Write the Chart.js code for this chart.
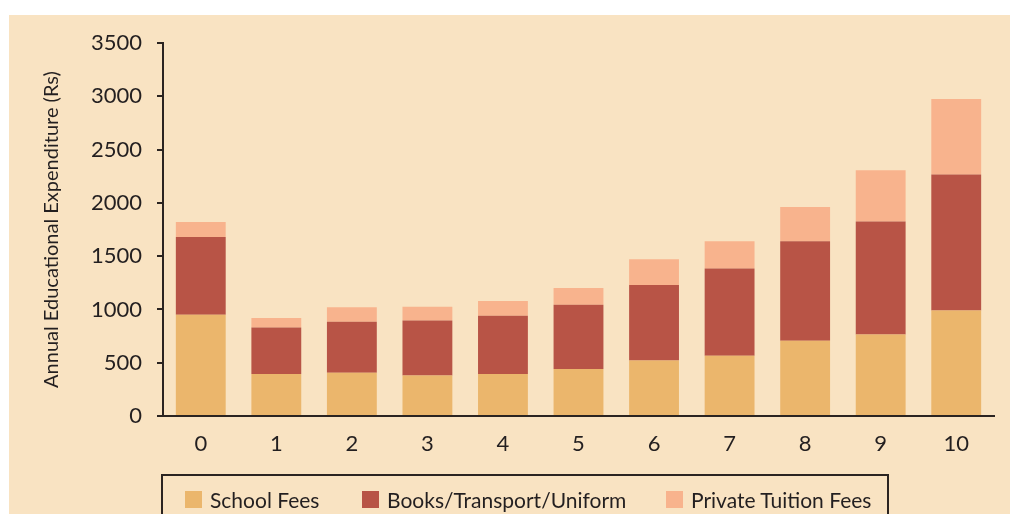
<!DOCTYPE html>
<html>
<head>
<meta charset="utf-8">
<script src="https://cdn.jsdelivr.net/npm/chart.js@4.4.1/dist/chart.umd.min.js"></script>
<style>
    html, body { margin: 0; padding: 0; background: #fff; }
    body { width: 1010px; height: 514px; position: relative; overflow: hidden; font-family: Lato, "Noto Sans", sans-serif; }
    .panel { position: absolute; left: 9px; top: 15px; right: 0; bottom: 0; background: #f9e3c2; }
    .chart-wrap { position: absolute; left: 0; top: 0; width: 1010px; height: 514px; }
    .legend {
        position: absolute; left: 161px; top: 474px; width: 724px; height: 60px;
        border: 2px solid #2b2421; box-sizing: content-box;
    }
    .legend .item { display: flex; align-items: center; color: #231f20; font-size: 21px; position: absolute; top: 11px; }
    .legend .swatch { width: 17px; height: 17px; margin-right: 8px; }
</style>
</head>
<body>
<div class="panel"></div>
<div class="chart-wrap"><canvas id="barChart"></canvas></div>
<div class="legend" id="custom-legend"></div>
<script>
// Household spending per category, stacked by expense type
const categories = ["0", "1", "2", "3", "4", "5", "6", "7", "8", "9", "10"];
const schoolFees = [950, 395, 405, 380, 395, 440, 520, 565, 705, 765, 990];
const booksTransport = [730, 435, 480, 515, 545, 605, 710, 820, 935, 1060, 1275];
const privateTuition = [140, 90, 135, 130, 140, 155, 240, 255, 320, 480, 710];
const yTicks = [0, 500, 1000, 1500, 2000, 2500, 3000, 3500];

const seriesNames = ["School Fees", "Books/Transport/Uniform", "Private Tuition Fees"];
const seriesColors = ['#ebb66c', '#b85446', '#f8b38d'];
const axisColor = '#2b2421';
const textColor = '#231f20';

const ctx = document.getElementById('barChart').getContext('2d');

new Chart(ctx, {
    type: 'bar',
    data: {
        labels: categories,
        datasets: [schoolFees, booksTransport, privateTuition].map((data, i) => ({
            label: seriesNames[i],
            data,
            backgroundColor: seriesColors[i],
            borderWidth: 0,
            categoryPercentage: 1,
            barPercentage: 0.66
        }))
    },
    options: {
        responsive: true,
        maintainAspectRatio: false,
        animation: false,
        layout: { padding: { left: 0, right: 16, top: 43, bottom: 0 } },
        scales: {
            x: {
                stacked: true,
                grid: { display: false, drawTicks: false },
                border: { display: true, color: axisColor, width: 2 },
                ticks: { color: textColor, padding: 15, font: { family: 'Lato', size: 22 } },
                afterFit(scale) { scale.height = 98; }
            },
            y: {
                stacked: true,
                min: 0,
                max: yTicks[yTicks.length - 1],
                afterBuildTicks(scale) { scale.ticks = yTicks.map(v => ({ value: v })); },
                grid: { display: true, drawOnChartArea: false, drawTicks: true, tickLength: 6, color: axisColor, lineWidth: 2 },
                border: { display: true, color: axisColor, width: 2 },
                ticks: {
                    color: textColor,
                    padding: 15,
                    font: { family: 'Lato', size: 22 },
                    callback: (value) => String(value)
                },
                title: {
                    display: true,
                    text: 'Annual Educational Expenditure (Rs)',
                    color: textColor,
                    font: { family: 'Lato', size: 20 },
                    padding: { top: 40, bottom: 0 }
                },
                afterFit(scale) { scale.width = 163; }
            }
        },
        plugins: {
            legend: { display: false },
            tooltip: { enabled: false }
        }
    }
});

// Legend box below the axis
const legendLeft = [22, 199, 503];
document.getElementById('custom-legend').innerHTML = seriesNames.map((name, i) => `
  <div class="item" style="left:${legendLeft[i]}px">
    <span class="swatch" style="background:${seriesColors[i]}"></span><span>${name}</span>
  </div>
`).join('');
</script>
</body>
</html>
